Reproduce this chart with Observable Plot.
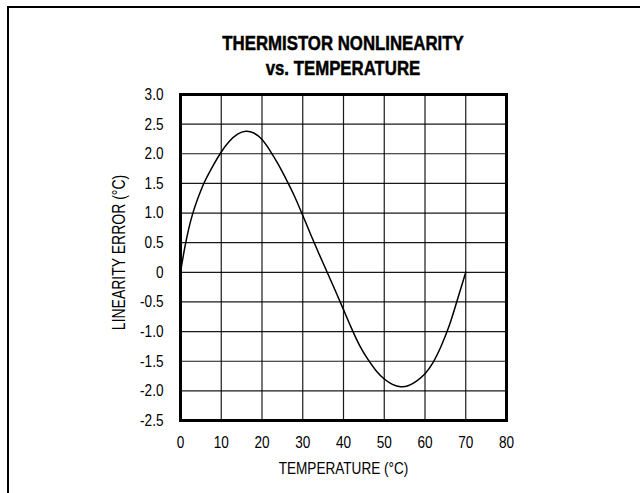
<!DOCTYPE html>
<html>
<head>
<meta charset="utf-8">
<script src="https://cdn.jsdelivr.net/npm/d3@7"></script>
<script src="https://cdn.jsdelivr.net/npm/@observablehq/plot@0.6"></script>
<style>
  html, body { margin: 0; padding: 0; background: #fff; overflow: hidden; }
  #wrap { position: relative; width: 640px; height: 493px; overflow: hidden; }
  #frame { position: absolute; left: 7px; top: 6px; width: 700px; height: 600px;
           border-left: 2px solid #000; border-top: 2px solid #000; }
  .title { position: absolute; left: 143px; width: 400px; text-align: center;
           font-family: "Liberation Sans", sans-serif;
           font-weight: bold; font-size: 21px; line-height: 21px; color: #000;
           transform: scaleX(0.8); transform-origin: 200px 0;
           -webkit-text-stroke: 0.5px #000; }
  #chart { position: absolute; left: 0; top: 0; }
</style>
</head>
<body>
<div id="wrap">
  <div id="frame"></div>
  <div id="chart"></div>
  <div class="title" style="top:32px">THERMISTOR NONLINEARITY</div>
  <div class="title" style="top:57px">vs. TEMPERATURE</div>
</div>
<script>
const temperature = [0,1,2,3,4,5,6,8,10,12,14,16,18,20,22,24,26,28,30,32,34,36,38,40,42,44,46,48,50,52,54,56,58,60,62,64,66,68,70];
const linearityError = [0,0.4,0.73,0.99,1.2,1.38,1.54,1.8,2.03,2.21,2.33,2.38,2.35,2.24,2.05,1.82,1.56,1.28,0.96,0.63,0.31,0.0,-0.31,-0.63,-0.95,-1.24,-1.47,-1.66,-1.8,-1.89,-1.93,-1.91,-1.83,-1.71,-1.52,-1.24,-0.89,-0.45,0];
const xTicks = [0,10,20,30,40,50,60,70,80];
const yTicks = [-2.5,-2.0,-1.5,-1.0,-0.5,0,0.5,1.0,1.5,2.0,2.5,3.0];
const xTitle = "TEMPERATURE (°C)";
const yTitle = "LINEARITY ERROR (°C)";

const data = temperature.map((t, i) => ({t, e: linearityError[i]}));
const font = '"Liberation Sans", sans-serif';

const chart = Plot.plot({
  width: 640,
  height: 493,
  marginLeft: 180,
  marginRight: 134,
  marginTop: 94,
  marginBottom: 73,
  style: {fontFamily: font, fontSize: "17px", color: "#000", background: "transparent"},
  x: {domain: [0, 80]},
  y: {domain: [-2.5, 3.0]},
  marks: [
    Plot.gridX(xTicks, {stroke: "#000", strokeOpacity: 0.9, strokeWidth: 1.2}),
    Plot.gridY(yTicks, {stroke: "#000", strokeOpacity: 0.9, strokeWidth: 1.2}),
    Plot.line(data, {x: "t", y: "e", curve: "natural", stroke: "#000", strokeWidth: 1.5}),
    Plot.frame({stroke: "#000", strokeWidth: 3}),
    Plot.axisX(xTicks, {tickSize: 0, tickPadding: 15, label: null, fontSize: 17}),
    Plot.axisY(yTicks, {tickSize: 0, tickPadding: 17, label: null, fontSize: 17,
      tickFormat: d => d === 0 ? "0" : d.toFixed(1)}),
    Plot.text([xTitle], {frameAnchor: "bottom", dy: 48, fontSize: 17, lineAnchor: "middle", textAnchor: "middle"}),
    Plot.text([yTitle], {frameAnchor: "left", dx: -61, dy: -5, rotate: -90, fontSize: 17.5, lineAnchor: "middle", textAnchor: "middle"})
  ]
});
// condense text horizontally (no narrow font installed)
chart.querySelectorAll("text").forEach(t => {
  const x = parseFloat(t.getAttribute("x")) || 0;
  const tr = t.getAttribute("transform") || "";
  t.setAttribute("transform", `${tr} translate(${x},0) scale(0.8,1) translate(${-x},0)`);
});
document.getElementById("chart").appendChild(chart);
</script>
</body>
</html>
